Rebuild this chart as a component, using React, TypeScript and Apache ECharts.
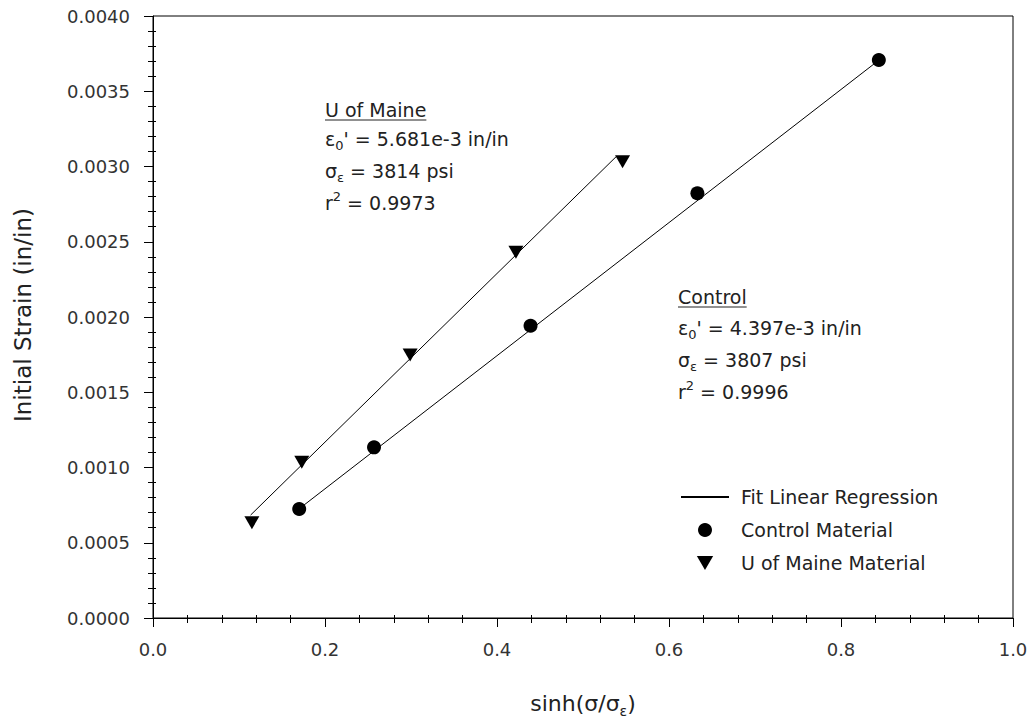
import React, { useEffect, useRef } from "react";
import * as echarts from "echarts";

// ---- data ----
const controlX = [0.170, 0.257, 0.439, 0.633, 0.844];
const controlY = [0.000724, 0.001134, 0.001942, 0.002822, 0.003708];
const maineX = [0.115, 0.173, 0.299, 0.422, 0.546];
const maineY = [0.000633, 0.001035, 0.001748, 0.00243, 0.003032];
// fit line end points
const controlFitX = [0.1696, 0.8444];
const controlFitY = [0.000724, 0.003708];
const maineFitX = [0.1135, 0.5385];
const maineFitY = [0.000684, 0.003065];

const legendNames = ["Fit Linear Regression", "Control Material", "U of Maine Material"];
const xTitle = "sinh(σ/σε)";
const yTitle = "Initial Strain (in/in)";
const maineLines = ["U of Maine", "ε0' = 5.681e-3 in/in", "σε = 3814 psi", "r2 = 0.9973"];
const controlLines = ["Control", "ε0' = 4.397e-3 in/in", "σε = 3807 psi", "r2 = 0.9996"];

const FONT = '"DejaVu Sans", "Liberation Sans", Arial, sans-serif';
const TXT = "#222";

function zip(xs: number[], ys: number[]) {
  return xs.map((x, i) => [x, ys[i]]);
}

function measure(text: string, size: number) {
  const c = document.createElement("canvas").getContext("2d");
  if (!c) return text.length * size * 0.6;
  c.font = `${size}px "DejaVu Sans"`;
  return c.measureText(text).width;
}

const rich = {
  n: { fontSize: 19, fontFamily: FONT, fill: TXT, lineHeight: 26 },
  sub: { fontSize: 13, fontFamily: FONT, fill: TXT, lineHeight: 26, verticalAlign: "bottom" },
  sup: { fontSize: 13, fontFamily: FONT, fill: TXT, lineHeight: 26, verticalAlign: "top" },
};

function annotation(x: number, ys: number[], lines: string[]) {
  const eps = lines[1].slice(2); // "' = ..."
  const sig = lines[2].slice(2);
  const r = lines[3].slice(2);
  const w = measure(lines[0], 19);
  return [
    { type: "text", x, y: ys[0], style: { text: lines[0], fontSize: 19, fontFamily: FONT, fill: TXT, verticalAlign: "middle" } },
    { type: "line", shape: { x1: x, y1: ys[0] + 10, x2: x + w, y2: ys[0] + 10 }, style: { stroke: TXT, lineWidth: 1 } },
    { type: "text", x, y: ys[1], style: { text: `{n|ε}{sub|0}{n|${eps}}`, rich, verticalAlign: "middle" } },
    { type: "text", x, y: ys[2], style: { text: `{n|σ}{sub|ε}{n|${sig}}`, rich, verticalAlign: "middle" } },
    { type: "text", x, y: ys[3], style: { text: `{n|r}{sup|2}{n|${r}}`, rich, verticalAlign: "middle" } },
  ];
}

export default function App() {
  const ref = useRef<HTMLDivElement>(null);
  useEffect(() => {
    if (!ref.current) return;
    const chart = echarts.init(ref.current, null, { renderer: "svg" });
    const black = { color: "#000", width: 1 };
    const axisLabel = { fontSize: 18, fontFamily: FONT, color: "#333" };
    const tri = "path://M0,0L14,0L7,12Z";
    chart.setOption({
      animation: false,
      backgroundColor: "#fff",
      grid: { left: 153, right: 20, top: 16, bottom: 109, show: true, borderColor: "#000", borderWidth: 1, containLabel: false },
      xAxis: [
        {
          type: "value", min: 0, max: 1, interval: 0.2, position: "bottom",
          axisLine: { show: true, onZero: false, lineStyle: black },
          axisTick: { show: true, length: 9, lineStyle: black },
          minorTick: { show: true, splitNumber: 5, length: 5, lineStyle: black },
          splitLine: { show: false },
          axisLabel: { ...axisLabel, margin: 22, formatter: (v: number) => v.toFixed(1) },
        },
        {
          type: "value", min: 0, max: 1, interval: 0.2, position: "bottom",
          axisLine: { show: false },
          axisTick: { show: false, inside: true },
          minorTick: { show: true, splitNumber: 5, length: 3, lineStyle: black },
          splitLine: { show: false },
          axisLabel: { show: false },
        },
      ],
      yAxis: [
        {
          type: "value", min: 0, max: 0.004, interval: 0.0005, position: "left",
          axisLine: { show: true, onZero: false, lineStyle: black },
          axisTick: { show: true, length: 9, lineStyle: black },
          minorTick: { show: true, splitNumber: 5, length: 5, lineStyle: black },
          splitLine: { show: false },
          axisLabel: { ...axisLabel, margin: 23, formatter: (v: number) => v.toFixed(4) },
        },
        {
          type: "value", min: 0, max: 0.004, interval: 0.0005, position: "left",
          axisLine: { show: false },
          axisTick: { show: false, inside: true },
          minorTick: { show: true, splitNumber: 5, length: 3, lineStyle: black },
          splitLine: { show: false },
          axisLabel: { show: false },
        },
      ],
      legend: {
        data: [
          { name: legendNames[0], itemStyle: { opacity: 0, color: "transparent", borderWidth: 0 } },
          { name: legendNames[1] },
          { name: legendNames[2] },
        ],
        orient: "vertical",
        left: 680,
        top: 487,
        itemWidth: 48,
        itemHeight: 14,
        itemGap: 13,
        padding: 0,
        selectedMode: false,
        textStyle: { fontSize: 19, fontFamily: FONT, color: TXT, lineHeight: 20, padding: [0, 0, 0, 7] },
      },
      series: [
        {
          name: legendNames[0], type: "line", data: zip(controlFitX, controlFitY),
          symbol: "none", showSymbol: false, lineStyle: { color: "#000", width: 1 }, itemStyle: { color: "#000" }, z: 2,
        },
        {
          name: legendNames[0], type: "line", data: zip(maineFitX, maineFitY),
          symbol: "none", showSymbol: false, lineStyle: { color: "#000", width: 1 }, itemStyle: { color: "#000" }, z: 2,
        },
        {
          name: legendNames[1], type: "scatter", data: zip(controlX, controlY),
          symbol: "circle", symbolSize: 14, itemStyle: { color: "#000", opacity: 1 }, z: 3,
        },
        {
          name: legendNames[2], type: "scatter", data: zip(maineX, maineY),
          symbol: tri, symbolSize: [15, 13], symbolKeepAspect: false, itemStyle: { color: "#000", opacity: 1 }, z: 3,
        },
      ],
      graphic: [
        {
          type: "text", x: 23, y: 315, rotation: Math.PI / 2,
          style: { text: yTitle, fontSize: 23, fontFamily: FONT, fill: TXT, align: "center", verticalAlign: "middle" },
        },
        {
          type: "text", x: 583, y: 703,
          style: {
            text: `{t|sinh(σ/σ}{s|ε}{t|)}`,
            rich: {
              t: { fontSize: 22, fontFamily: FONT, fill: TXT, lineHeight: 30 },
              s: { fontSize: 14, fontFamily: FONT, fill: TXT, lineHeight: 30, verticalAlign: "bottom" },
            },
            align: "center", verticalAlign: "middle",
          },
        },
        ...annotation(325, [110, 139, 171, 203], maineLines),
        ...annotation(678, [297, 328, 360, 392], controlLines),
      ],
    });
    return () => chart.dispose();
  }, []);
  return (
    <div
      ref={ref}
      style={{ position: "fixed", left: 0, top: 0, width: 1033, height: 727, background: "#fff" }}
      data-xtitle={xTitle}
    />
  );
}
